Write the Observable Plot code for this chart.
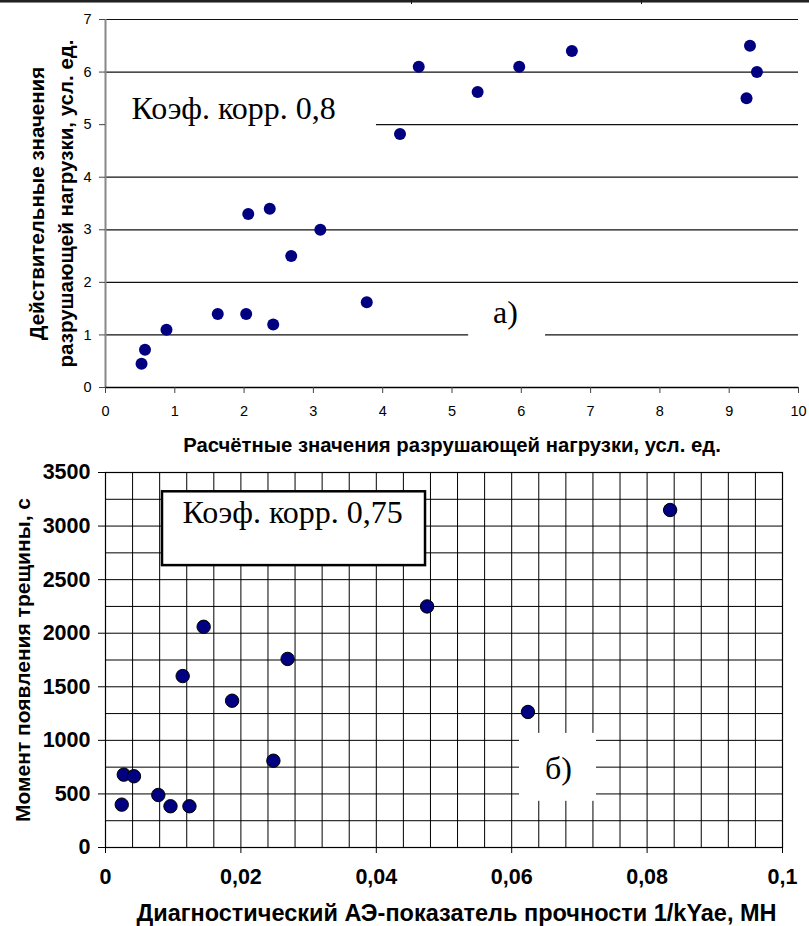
<!DOCTYPE html>
<html><head><meta charset="utf-8">
<script src="https://cdn.jsdelivr.net/npm/d3@7"></script>
<script src="https://cdn.jsdelivr.net/npm/@observablehq/plot@0.6"></script>
<style>
html,body{margin:0;padding:0;background:#fff;}
#wrap{position:relative;width:809px;height:926px;overflow:hidden;background:#fff;}
#top,#bot{position:absolute;left:0;}
#top{top:0;}
#bot{top:460px;}
.rule1{position:absolute;left:0;top:0;width:809px;height:2px;background:#222;}
.rule2{position:absolute;left:0;top:2px;width:809px;height:1px;background:#888;}
.stub{position:absolute;top:0;width:1px;height:4px;background:#111;}
</style></head>
<body>
<div id="wrap">
  <div id="top"></div>
  <div id="bot"></div>
  <div class="rule1"></div><div class="rule2"></div>
  <div class="stub" style="left:411px"></div><div class="stub" style="left:641px"></div>
</div>
<script>
// ---- Chart a) data ----
const calcLoad   = [0.52, 0.57, 0.88, 1.62, 2.03, 2.42, 2.06, 2.37, 2.68, 3.10, 3.77, 4.25, 4.52, 5.37, 5.97, 6.73, 9.30, 9.40, 9.25];
const actualLoad = [0.45, 0.72, 1.10, 1.40, 1.40, 1.20, 3.30, 3.40, 2.50, 3.00, 1.62, 4.82, 6.10, 5.62, 6.10, 6.40, 6.50, 6.00, 5.50];
const topXTicks = [0, 1, 2, 3, 4, 5, 6, 7, 8, 9, 10];
const topYTicks = [0, 1, 2, 3, 4, 5, 6, 7];
const topXTitle = "Расчётные значения разрушающей нагрузки, усл. ед.";
const topYTitle = "Действительные значения\nразрушающей нагрузки, усл. ед.";
const topCorrText = "Коэф. корр. 0,8";
const topTag = "а)";

// ---- Chart б) data ----
const aeIndex   = [0.0024, 0.0027, 0.0042, 0.0078, 0.0096, 0.0124, 0.0114, 0.0145, 0.0187, 0.0248, 0.0269, 0.0475, 0.0624, 0.0834];
const crackTime = [400, 680, 665, 490, 385, 385, 1600, 2060, 1370, 810, 1760, 2250, 1265, 3150];
const botXTicks = [0, 0.02, 0.04, 0.06, 0.08, 0.1];
const botXTickLabels = ["0", "0,02", "0,04", "0,06", "0,08", "0,1"];
const botYTicks = [0, 500, 1000, 1500, 2000, 2500, 3000, 3500];
const botXGrid = [0, 0.004, 0.008, 0.012, 0.016, 0.02, 0.024, 0.028, 0.032, 0.036, 0.04, 0.044, 0.048, 0.052, 0.056, 0.06, 0.064, 0.068, 0.072, 0.076, 0.08, 0.084, 0.088, 0.092, 0.096, 0.1];
const botYGrid = [0, 250, 500, 750, 1000, 1250, 1500, 1750, 2000, 2250, 2500, 2750, 3000, 3250, 3500];
const botXTitle = "Диагностический АЭ-показатель прочности 1/kYae, МН";
const botYTitle = "Момент появления трещины, с";
const botCorrText = "Коэф. корр. 0,75";
const botTag = "б)";

// annotation placements (data coordinates)
const topAnno = {
  corrBox: {x1: 0.015, x2: 3.91, y1: 4.6, y2: 5.6},
  corrText: {x: 0.375, y: 5.10},
  tagBox: {x1: 5.24, x2: 6.35, y1: 0.75, y2: 1.7},
  tagText: {x: 5.77, y: 1.22}
};
const botAnno = {
  corrBox: {x1: 0.00842, x2: 0.04727, y1: 2631, y2: 3320},
  corrText: {x: 0.01137, y: 3032},
  tagBox: {x1: 0.06115, x2: 0.07253, y1: 431, y2: 1065},
  tagText: {x: 0.0669, y: 640}
};

const sans = "'Liberation Sans', Arial, sans-serif";
const serif = "'Liberation Serif', 'Times New Roman', serif";

const topData = calcLoad.map((x, i) => ({x, y: actualLoad[i]}));
const botData = aeIndex.map((x, i) => ({x, y: crackTime[i]}));

const topPlot = Plot.plot({
  width: 809, height: 460,
  marginLeft: 105, marginRight: 11, marginTop: 19, marginBottom: 73,
  style: {background: "transparent", fontFamily: sans, overflow: "visible", color: "#000"},
  x: {domain: [0, 10]},
  y: {domain: [0, 7]},
  marks: [
    Plot.ruleY(topYTicks.filter(d => d > 0), {stroke: "#111", strokeWidth: 1.2}),
    Plot.rect([topAnno.corrBox, topAnno.tagBox], {x1: "x1", x2: "x2", y1: "y1", y2: "y2", fill: "white"}),
    Plot.ruleX([0], {stroke: "#888", strokeWidth: 2}),
    Plot.ruleY([0], {stroke: "#000", strokeWidth: 1.4}),
    Plot.axisX({ticks: topXTicks, tickFormat: () => "", tickSize: 6, label: null, stroke: "#444"}),
    Plot.axisY({ticks: topYTicks, tickFormat: () => "", tickSize: 6, label: null, stroke: "#444"}),
    Plot.text(topXTicks, {x: d => d, text: d => String(d), frameAnchor: "bottom", dy: 24, lineAnchor: "middle", textAnchor: "middle", fontSize: 14.5, fill: "#000"}),
    Plot.text(topYTicks, {y: d => d, text: d => String(d), frameAnchor: "left", dx: -14, lineAnchor: "middle", textAnchor: "end", fontSize: 14.5, fill: "#000"}),
    Plot.dot(topData, {x: "x", y: "y", r: 6, fill: "#000080", stroke: "none"}),
    Plot.text([topCorrText], {x: topAnno.corrText.x, y: topAnno.corrText.y, text: d => d, textAnchor: "start", lineAnchor: "bottom", fontFamily: serif, fontSize: 32, fill: "#000"}),
    Plot.text([topTag], {x: topAnno.tagText.x, y: topAnno.tagText.y, text: d => d, textAnchor: "middle", lineAnchor: "bottom", fontFamily: serif, fontSize: 32, fill: "#000"}),
    Plot.text([topYTitle], {text: d => d, frameAnchor: "left", dx: -56, rotate: -90, lineAnchor: "middle", textAnchor: "middle", fontWeight: "bold", fontSize: 20.5, lineHeight: 1.4, fill: "#000"}),
    Plot.text([topXTitle], {text: d => d, frameAnchor: "bottom", dy: 58, lineAnchor: "middle", textAnchor: "middle", fontWeight: "bold", fontSize: 20.3, fill: "#000"})
  ]
});
document.getElementById("top").appendChild(topPlot);

const botPlot = Plot.plot({
  width: 809, height: 466,
  marginLeft: 105, marginRight: 27, marginTop: 12, marginBottom: 79,
  style: {background: "transparent", fontFamily: sans, overflow: "visible", color: "#000"},
  x: {domain: [0, 0.1]},
  y: {domain: [0, 3500]},
  marks: [
    Plot.ruleX(botXGrid, {stroke: "#000", strokeWidth: 1}),
    Plot.ruleY(botYGrid, {stroke: "#000", strokeWidth: 1}),
    Plot.frame({stroke: "#000", strokeWidth: 1.2}),
    Plot.rect([botAnno.corrBox], {x1: "x1", x2: "x2", y1: "y1", y2: "y2", fill: "white", stroke: "#000", strokeWidth: 2.5}),
    Plot.rect([botAnno.tagBox], {x1: "x1", x2: "x2", y1: "y1", y2: "y2", fill: "white"}),
    Plot.axisX({ticks: botXTicks, tickFormat: () => "", tickSize: 6, label: null}),
    Plot.axisY({ticks: botYTicks, tickFormat: () => "", tickSize: 7, label: null}),
    Plot.text(botXTicks, {x: d => d, text: d => botXTickLabels[botXTicks.indexOf(d)], frameAnchor: "bottom", dy: 30, lineAnchor: "middle", textAnchor: "middle", fontSize: 21.5, fontWeight: "bold", fill: "#000"}),
    Plot.text(botYTicks, {y: d => d, text: d => String(d), frameAnchor: "left", dx: -15, lineAnchor: "middle", textAnchor: "end", fontSize: 21.5, fontWeight: "bold", fill: "#000"}),
    Plot.dot(botData, {x: "x", y: "y", r: 6.7, fill: "#000080", stroke: "#000", strokeWidth: 1}),
    Plot.text([botCorrText], {x: botAnno.corrText.x, y: botAnno.corrText.y, text: d => d, textAnchor: "start", lineAnchor: "bottom", fontFamily: serif, fontSize: 32, fill: "#000"}),
    Plot.text([botTag], {x: botAnno.tagText.x, y: botAnno.tagText.y, text: d => d, textAnchor: "middle", lineAnchor: "bottom", fontFamily: serif, fontSize: 32, fill: "#000"}),
    Plot.text([botYTitle], {text: d => d, frameAnchor: "left", dx: -82, rotate: -90, lineAnchor: "middle", textAnchor: "middle", fontWeight: "bold", fontSize: 21, fill: "#000"}),
    Plot.text([botXTitle], {text: d => d, frameAnchor: "bottom", dx: 12.5, dy: 66, lineAnchor: "middle", textAnchor: "middle", fontWeight: "bold", fontSize: 23.5, fill: "#000"})
  ]
});
document.getElementById("bot").appendChild(botPlot);
</script>
</body></html>
